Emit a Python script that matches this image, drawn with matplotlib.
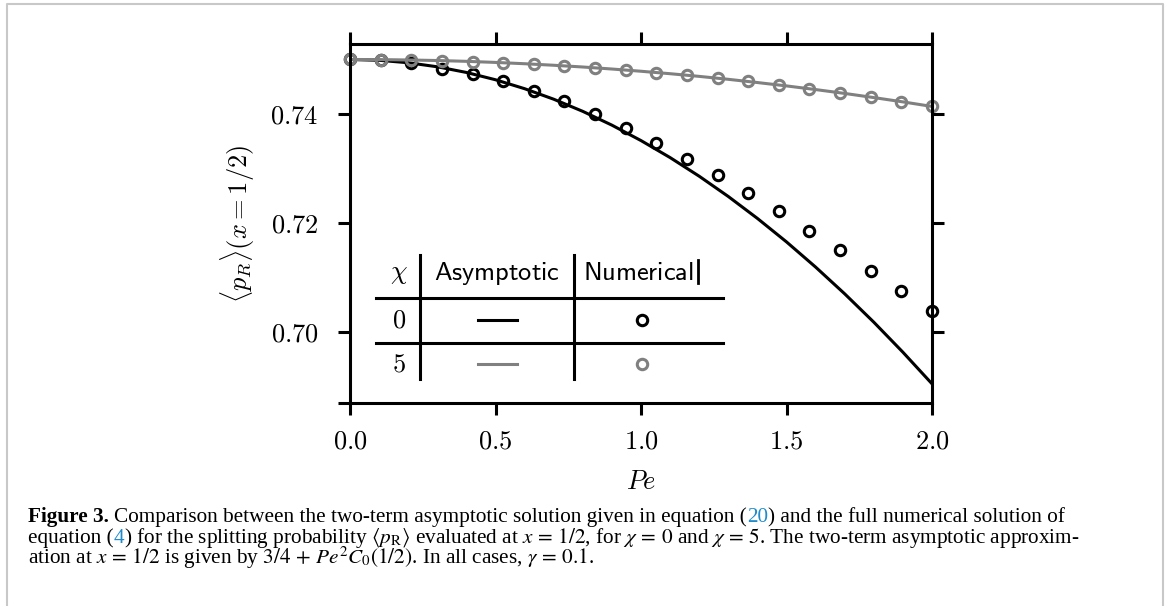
import numpy as np
import matplotlib
matplotlib.use('Agg')
import matplotlib.pyplot as plt
from matplotlib.lines import Line2D
from matplotlib.ticker import FixedLocator

# ---------------- data ----------------
pe_numerical = [0.0, 0.105, 0.211, 0.316, 0.421, 0.526, 0.632, 0.737, 0.842, 0.947,
                1.053, 1.158, 1.263, 1.368, 1.474, 1.579, 1.684, 1.789, 1.895, 2.0]
num_chi0 = [0.75000, 0.74982, 0.74939, 0.74829, 0.74738, 0.74596, 0.74420, 0.74229,
            0.73991, 0.73747, 0.73472, 0.73178, 0.72872, 0.72554, 0.72211, 0.71857,
            0.71508, 0.71128, 0.70761, 0.70383]
num_chi5 = [0.75000, 0.74998, 0.74990, 0.74979, 0.74962, 0.74940, 0.74914, 0.74883,
            0.74847, 0.74807, 0.74761, 0.74712, 0.74657, 0.74596, 0.74532, 0.74462,
            0.74389, 0.74310, 0.74226, 0.74138]

pe_asym = [0.0, 0.1, 0.2, 0.3, 0.4, 0.5, 0.6, 0.7, 0.8, 0.9, 1.0,
           1.1, 1.2, 1.3, 1.4, 1.5, 1.6, 1.7, 1.8, 1.9, 2.0]
asym_chi0 = [0.75000, 0.74985, 0.74940, 0.74866, 0.74762, 0.74628, 0.74464, 0.74271,
             0.74048, 0.73795, 0.73512, 0.73200, 0.72858, 0.72486, 0.72084, 0.71653,
             0.71191, 0.70700, 0.70180, 0.69629, 0.69049]
asym_chi5 = [0.75000, 0.74998, 0.74991, 0.74981, 0.74966, 0.74946, 0.74922, 0.74894,
             0.74862, 0.74825, 0.74784, 0.74739, 0.74690, 0.74636, 0.74577, 0.74515,
             0.74448, 0.74377, 0.74301, 0.74222, 0.74138]

xticks = [0.0, 0.5, 1.0, 1.5, 2.0]
xtick_labels = [r'$0.0$', r'$0.5$', r'$1.0$', r'$1.5$', r'$2.0$']
yticks = [0.70, 0.72, 0.74]
ytick_labels = [r'$0.70$', r'$0.72$', r'$0.74$']

legend_header = [r'$\chi$', r'$\mathsf{Asymptotic}$', r'$\mathsf{Numerical}$']
legend_rows = [r'$0$', r'$5$']

caption_lines = [
    [("Figure 3.", "bold", "k", 0),
     ("Comparison between the two-term asymptotic solution given in equation (", "normal", "k", 5),
     ("20", "normal", "#1f8bcb", 0),
     (") and the full numerical solution of", "normal", "k", 0)],
    [("equation (", "normal", "k", 0),
     ("4", "normal", "#1f8bcb", 0),
     (r") for the splitting probability $\langle p_{\mathrm{R}}\rangle$ evaluated at $x\,=\,1/2$, "
      r"for $\chi\,=\,0$ and $\chi\,=\,5$. The two-term asymptotic approxim-", "normal", "k", 0)],
    [(r"ation at $x\,=\,1/2$ is given by $3/4\,+\,Pe^2C_0(1/2)$. In all cases, $\gamma\,=\,0.1$.",
      "normal", "k", 0)],
]

# ---------------- styling ----------------
plt.rcParams['mathtext.fontset'] = 'cm'
BLACK = '#000000'
GRAY = '#808080'
FS = 19
LW = 2.2

W, H = 1167, 606
fig = plt.figure(figsize=(W / 100, H / 100), dpi=100)
fig.patch.set_facecolor('white')

ax = fig.add_axes([350 / W, 1 - 403 / H, (932 - 350) / W, (403 - 44) / H])

ax.plot(pe_asym, asym_chi0, color=BLACK, lw=LW, zorder=2)
ax.plot(pe_numerical, num_chi0, ls='none', marker='o', ms=7.5, mew=2.2,
        mfc='none', mec=BLACK, clip_on=False, zorder=2.1)
ax.plot(pe_asym, asym_chi5, color=GRAY, lw=LW, zorder=2.2)
ax.plot(pe_numerical, num_chi5, ls='none', marker='o', ms=7.5, mew=2.2,
        mfc='none', mec=GRAY, clip_on=False, zorder=2.3)

ax.set_xlim(0.0, 2.0)
ax.set_ylim(0.68697, 0.75284)

for s in ax.spines.values():
    s.set_linewidth(LW)
    s.set_color(BLACK)

ax.set_xticks(xticks, labels=xtick_labels)
ax.set_yticks(yticks, labels=ytick_labels)
ax.yaxis.set_minor_locator(FixedLocator([0.68697]))
ax.tick_params(which='major', direction='out', length=8.6, width=LW,
               top=True, right=True, labelsize=FS, color=BLACK)
ax.tick_params(axis='x', which='major', pad=10)
ax.tick_params(axis='y', which='major', pad=14)
ax.tick_params(axis='y', which='minor', direction='out', length=8.6, width=LW,
               left=True, right=False)

ax.set_xlabel(r'$Pe$', fontsize=FS, labelpad=10)
ax.set_ylabel(r'$\langle p_R\rangle(x=1/2)$', fontsize=FS, labelpad=10)

# ---------------- table-style legend ----------------
T = ax.transAxes
for xv in (0.1203, 0.385):
    ax.add_line(Line2D([xv, xv], [0.0669, 0.412], transform=T, color=BLACK,
                       lw=LW, clip_on=False))
for yv in (0.2925, 0.167):
    ax.add_line(Line2D([0.0447, 0.641], [yv, yv], transform=T, color=BLACK,
                       lw=LW, clip_on=False))
ax.add_line(Line2D([0.598, 0.598], [0.334, 0.398], transform=T, color=BLACK,
                   lw=2.0, clip_on=False))

hx = [0.0842, 0.252, 0.496]
for xx, txt in zip(hx, legend_header):
    ax.text(xx, 0.362, txt, transform=T, ha='center', va='center', fontsize=FS)

row_y = [0.231, 0.1086]
row_colors = [BLACK, GRAY]
for yy, txt, col in zip(row_y, legend_rows, row_colors):
    ax.text(0.0842, yy, txt, transform=T, ha='center', va='center', fontsize=FS)
    ax.add_line(Line2D([0.22, 0.287], [yy, yy], transform=T, color=col, lw=LW,
                       clip_on=False))
    ax.add_line(Line2D([0.502], [yy], transform=T, ls='none', marker='o', ms=7.5,
                       mew=2.2, mfc='none', mec=col, clip_on=False))

# ---------------- page border ----------------
fig.add_artist(Line2D([7 / W, 7 / W, 1163 / W, 1163 / W],
                      [0, 1 - 4 / H, 1 - 4 / H, 0],
                      transform=fig.transFigure, color='#c8c8c8', lw=1.5))

# ---------------- caption ----------------
renderer = fig.canvas.get_renderer()
CAP_FS = 15.3
baselines = [522, 543, 564]
for base, pieces in zip(baselines, caption_lines):
    xpix = 28
    for txt, weight, col, gap in pieces:
        xpix += gap
        t = fig.text(xpix / W, 1 - base / H, txt, ha='left', va='baseline',
                     fontsize=CAP_FS, family='Liberation Serif', weight=weight,
                     color=col, math_fontfamily='stix')
        bb = t.get_window_extent(renderer=renderer)
        xpix = bb.x1 * W / fig.bbox.width

fig.savefig('out.png', dpi=100, facecolor='white')
